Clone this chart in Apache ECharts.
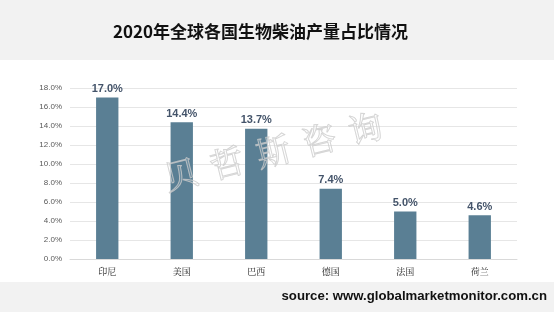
<!DOCTYPE html>
<html><head><meta charset="utf-8">
<script src="https://cdn.jsdelivr.net/npm/echarts@6/dist/echarts.min.js"></script>
<style>html,body{margin:0;padding:0;background:#f2f2f2;}#c{width:554px;height:312px;}</style>
</head><body><div id="c"></div>
<script>
const titleText = '2020年全球各国生物柴油产量占比情况';
const sourceText = 'source: www.globalmarketmonitor.com.cn';
const categories = ['印尼', '美国', '巴西', '德国', '法国', '荷兰'];
const shares = [17.0, 14.4, 13.7, 7.4, 5.0, 4.6];
const watermarkChars = ['贝', '哲', '斯', '咨', '询'];

const chart = echarts.init(document.getElementById('c'), null, {renderer: 'canvas'});
const wmChildren = watermarkChars.map((ch, i) => ({
  type: 'text',
  x: (i - 2) * 47.5, y: 0, z: 100,
  style: {text: ch, font: '34px "Noto Serif CJK SC","Noto Sans CJK SC"', fill: 'rgba(255,255,255,0.12)', stroke: 'rgba(200,200,200,0.8)', lineWidth: 1, textAlign: 'center', textVerticalAlign: 'middle'}
}));
chart.setOption({
  backgroundColor: '#f2f2f2',
  animation: false,
  graphic: [
    {type: 'rect', left: 0, top: 60, shape: {width: 554, height: 222}, style: {fill: '#ffffff'}, z: -10},
    {type: 'text', left: 113, top: 23, style: {text: titleText, font: 'bold 17px "Noto Sans CJK SC"', fill: '#111'}},
    {type: 'text', right: 7, top: 290, style: {text: sourceText, font: 'bold 13.2px "Liberation Sans"', fill: '#111'}},
    {type: 'group', x: 273, y: 151, rotation: 14 * Math.PI / 180, children: wmChildren, z: 100}
  ],
  grid: {left: 70, right: 37, top: 88, bottom: 53},
  xAxis: {
    type: 'category', data: categories,
    axisLine: {lineStyle: {color: '#d9d9d9'}},
    axisTick: {show: false},
    axisLabel: {color: '#222', fontSize: 9, fontFamily: '"Noto Serif CJK SC","Noto Sans CJK SC"', margin: 8}
  },
  yAxis: {
    type: 'value', min: 0, max: 18, interval: 2,
    axisLine: {show: false}, axisTick: {show: false},
    splitLine: {lineStyle: {color: '#e6e6e6'}},
    axisLabel: {color: '#595959', fontSize: 8, fontFamily: 'Liberation Sans', margin: 8, formatter: v => v.toFixed(1) + '%'}
  },
  series: [{
    type: 'bar', data: shares, barWidth: '30%',
    itemStyle: {color: '#5a7f94'},
    label: {show: true, position: 'top', distance: 3, color: '#44546a', fontWeight: 'bold', fontSize: 11, fontFamily: 'Liberation Sans', formatter: p => p.value.toFixed(1) + '%'}
  }]
});
</script></body></html>
